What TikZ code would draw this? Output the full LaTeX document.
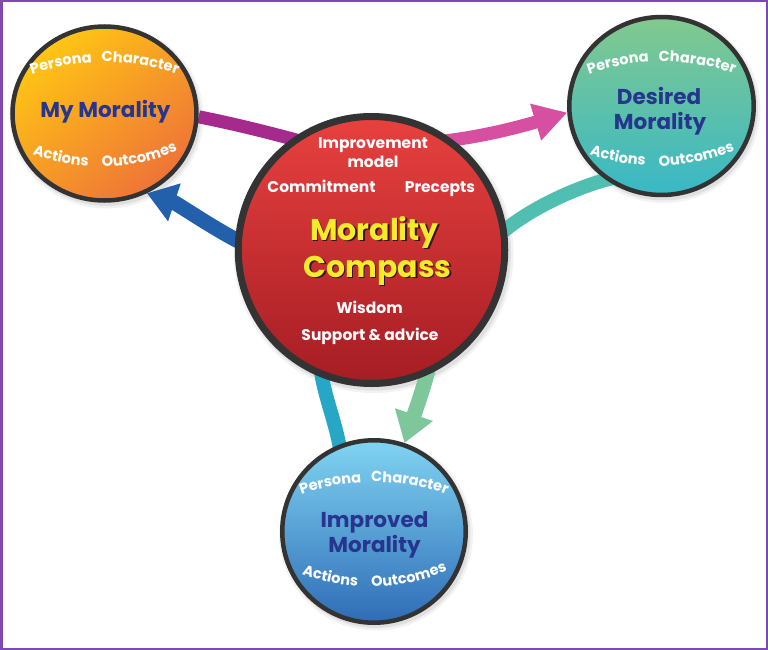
\documentclass[tikz,border=0pt]{standalone}
\usepackage{fontspec}
\setmainfont{Poppins}[UprightFont={* SemiBold},BoldFont={* Bold}]
\usetikzlibrary{shapes.geometric,arrows.meta,calc,decorations.text}
\definecolor{framecol}{HTML}{7E4AB2}
\definecolor{ringcol}{HTML}{333333}
\definecolor{titleblue}{HTML}{28358F}
\definecolor{cyellow}{HTML}{F4EC2A}
\definecolor{cshadow}{HTML}{3A1012}
\definecolor{mmtop}{HTML}{FFC614}
\definecolor{mmbot}{HTML}{EE7338}
\definecolor{dmtop}{HTML}{82C98E}
\definecolor{dmbot}{HTML}{38B8C6}
\definecolor{cmtop}{HTML}{E8413F}
\definecolor{cmbot}{HTML}{A51D24}
\definecolor{imtop}{HTML}{80D4F2}
\definecolor{imbot}{HTML}{2E6CB6}
\definecolor{magL}{HTML}{A62A8D}
\definecolor{magR}{HTML}{D64FA0}
\definecolor{blueA}{HTML}{2260AB}
\definecolor{tealA}{HTML}{50BFB2}
\definecolor{cyanA}{HTML}{26A7C6}
\definecolor{greenA}{HTML}{7DC79B}
\newcommand\fsz[1]{\fontsize{#1}{#1}\selectfont}
\newcommand\wordfont{\fontsize{14.6}{14.6}\selectfont\bfseries}
\pgfdeclarelayer{shadowlayer}
\pgfdeclarelayer{arrowlayer}
\pgfsetlayers{shadowlayer,arrowlayer,main}
\tikzset{
  disc/.style={ellipse, inner sep=0pt, draw=ringcol, line width=4.5pt},
  otitle/.style={text=titleblue, font=\fsz{21.5}\bfseries, anchor=base, inner sep=0pt},
  ctitle/.style={text=cyellow, font=\fsz{30}\bfseries, anchor=base, inner sep=0pt},
  cshad/.style={text=cshadow, font=\fsz{30}\bfseries, anchor=base, inner sep=0pt},
  wlab/.style={text=white, font=\fsz{15.5}\bfseries, anchor=base, inner sep=0pt},
  band/.style={line width=14pt, line cap=butt},
  wordpath/.style={decorate, decoration={text along path, text color=white, text align=left, text={|\wordfont|#1}}},
}
\newcommand\topword[4]{\path[wordpath={#4}] ($(#1)+(#2:219)$) arc[start angle=#2, end angle=#3, radius=219];}
\newcommand\botword[4]{\path[wordpath={#4}] ($(#1)+(#2:199)$) arc[start angle=#2, end angle=#3, radius=199];}
\newcommand\fourwords[2]{%
  \coordinate (#1ct) at ($(#1.center)+(0.5,#2+167.5)$);
  \coordinate (#1cb) at ($(#1.center)+(-4,#2-146)$);
  \topword{#1ct}{-109.5}{-60}{Persona}
  \topword{#1ct}{-90.9}{-45}{Character}
  \botword{#1cb}{110}{60}{Actions}
  \botword{#1cb}{89.6}{40}{Outcomes}
}
\begin{document}
\begin{tikzpicture}[x=1pt,y=-1pt]
\useasboundingbox (0,0) rectangle (768,650);
% discs
\node[disc, minimum width=184, minimum height=174, top color=mmtop, bottom color=mmbot, shading angle=40] (mymor) at (104.5,113.5) {};
\node[disc, minimum width=184.5, minimum height=178, top color=dmtop, bottom color=dmbot] (desired) at (661.5,106) {};
\node[disc, line width=7pt, minimum width=266.5, minimum height=267, top color=cmtop, bottom color=cmbot] (compass) at (371.5,250) {};
\node[disc, minimum width=183.5, minimum height=182.5, top color=imtop, bottom color=imbot] (improved) at (374,531.5) {};
% background and soft shadows
\begin{pgfonlayer}{shadowlayer}
\fill[white] (0,0) rectangle (768,650);
\foreach \n/\rx/\ry in {mymor/92/87, desired/92/89, compass/135/135, improved/92/91}{
  \fill[black, opacity=0.05] ($(\n.center)+(2,3)$) ellipse [x radius=\rx+5, y radius=\ry+5];
  \fill[black, opacity=0.07] ($(\n.center)+(2,3)$) ellipse [x radius=\rx+2.5, y radius=\ry+2.5];
}
\end{pgfonlayer}
% connectors
\begin{pgfonlayer}{arrowlayer}
\draw[band, line width=13pt, magL] (mymor.-2) .. controls +(40,8) and +(-30,-8) .. ($(compass.126)+(10,2)$);
\draw[band, line width=13pt, magR, -{Triangle[length=33pt,width=36pt]}] ($(compass.54)+(-10,2)$) .. controls +(45,-5) and +(-40,12) .. (desired.184);
\draw[band, line width=15pt, blueA, -{Triangle[length=29pt,width=38pt]}] ($(compass.176)+(8,3)$) .. controls +(-30,-15) and +(30,10) .. (mymor.-62);
\draw[band, tealA] ($(desired.235)+(6,-4)$) .. controls +(-35,8) and +(30,-28) .. ($(compass.8)+(-10,6)$);
\draw[band, cyanA] ($(compass.-112)+(0,-10)$) .. controls +(4,30) and +(-4,-30) .. ($(improved.112)+(2,10)$);
\draw[band, line width=15pt, greenA, -{Triangle[length=30pt,width=38pt]}] ($(compass.-65)+(0,-10)$) .. controls +(-4,20) and +(5,-15) .. (improved.71);
\end{pgfonlayer}
% outer titles
\node[otitle] (mmtitle) at (105.5,118) {My Morality};
\node[otitle] (dmtitle1) at (659,105) {Desired};
\node[otitle] (dmtitle2) at (660,130) {Morality};
\node[otitle] (imtitle1) at (374.5,527) {Improved};
\node[otitle] (imtitle2) at (374.5,552) {Morality};
% curved words
\fourwords{mymor}{0}
\fourwords{desired}{7}
\fourwords{improved}{2}
% compass texts
\node[wlab] (cimp) at (373,148) {Improvement};
\node[wlab] (cmodel) at (373,167) {model};
\node[wlab] (ccomm) at (321.5,192) {Commitment};
\node[wlab] (cprec) at (440,192) {Precepts};
\node[wlab] (cwis) at (369.5,313) {Wisdom};
\node[wlab] (csup) at (370,340) {Support \& advice};
\node[cshad] (ctitle1s) at (376,241.5) {Morality};
\node[cshad] (ctitle2s) at (379,278.5) {Compass};
\node[ctitle] (ctitle1) at (374.5,240) {Morality};
\node[ctitle] (ctitle2) at (377.5,277) {Compass};
% frame
\draw[framecol, line width=2.5pt] (1.25,1.25) rectangle (766.75,648.75);
\end{tikzpicture}
\end{document}
